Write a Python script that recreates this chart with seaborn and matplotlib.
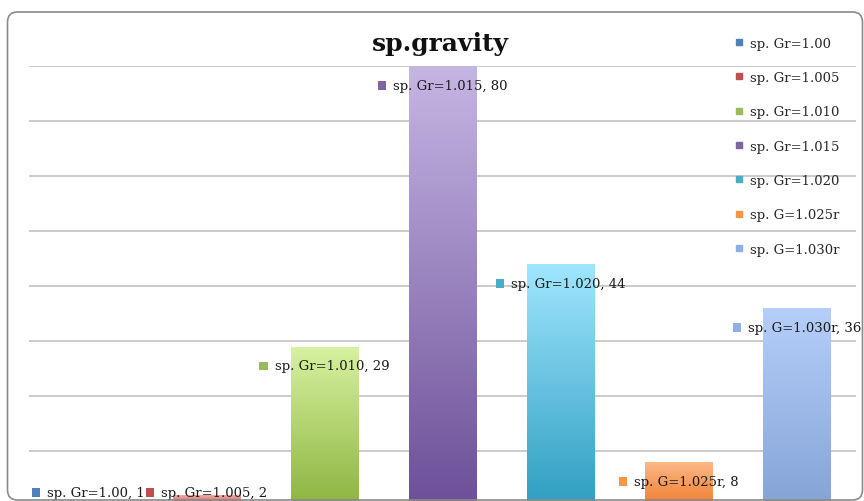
import numpy as np
import pandas as pd
import seaborn as sns
import matplotlib.pyplot as plt
from matplotlib.colors import LinearSegmentedColormap
from matplotlib.patches import FancyBboxPatch, Rectangle
from matplotlib.lines import Line2D
from matplotlib.offsetbox import AnnotationBbox, HPacker, DrawingArea, TextArea

# data
categories = ["sp. Gr=1.00", "sp. Gr=1.005", "sp. Gr=1.010", "sp. Gr=1.015",
              "sp. Gr=1.020", "sp. G=1.025r", "sp. G=1.030r"]
values = [1, 2, 29, 80, 44, 8, 36]
# gradient colours: (top, bottom)
top_colors = ["#aac6f0", "#f4a8a6", "#d8f2a2", "#c6b6e3", "#a0e6ff", "#fdb888", "#b6cefa"]
bottom_colors = ["#5a86c4", "#c4504c", "#8db43e", "#6c4f98", "#2e9ec0", "#f07c2c", "#84a4d6"]
marker_colors = ["#4f81bd", "#c0504d", "#9bbb59", "#8064a2", "#4bacc6", "#f79646", "#8fb0e6"]

df = pd.DataFrame({"cat": categories, "val": values})

sns.set_theme(style="white")
plt.rcParams["font.family"] = ["DejaVu Serif"]
FS = 9.5

fig = plt.figure(figsize=(8.64, 5.02), dpi=100)
ax = fig.add_axes([29 / 864, 1 - 507 / 502, (856 - 29) / 864, 440 / 502])

sns.barplot(data=df, x="cat", y="val", hue="cat", palette=marker_colors,
            legend=False, width=0.57, ax=ax)

# gradient fill on each bar
bars = sorted(ax.patches, key=lambda p: p.get_x())
for i, p in enumerate(bars):
    x0, y0, w, h = p.get_x(), p.get_y(), p.get_width(), p.get_height()
    cmap = LinearSegmentedColormap.from_list("g", [bottom_colors[i], top_colors[i]])
    grad = np.linspace(0, 1, 256).reshape(-1, 1)
    im = ax.imshow(grad, cmap=cmap, origin="lower", aspect="auto",
                   extent=[x0, x0 + w, y0, y0 + h], zorder=2)
    im.set_clip_path(p)
    p.set_edgecolor("none")

ax.set_xlim(-0.5, len(categories) - 0.5)
ax.set_ylim(0, 80)
ax.set_yticks(range(0, 81, 10))
ax.yaxis.grid(True, color="#bdbdbd", lw=1.1)
ax.set_axisbelow(True)
ax.set_xticks([])
ax.set_yticklabels([])
ax.set_xlabel("")
ax.set_ylabel("")
sns.despine(ax=ax, left=True, bottom=True)
ax.patch.set_alpha(0)

# data labels with small colored square
for i, (cat, v) in enumerate(zip(categories, values)):
    da = DrawingArea(6, 6, 0, 0)
    da.add_artist(Rectangle((0, 0), 6, 6, facecolor=marker_colors[i], edgecolor="none"))
    ta = TextArea(f"{cat}, {v}", textprops=dict(fontsize=FS, color="#1a1a1a"))
    box = HPacker(children=[da, ta], align="center", pad=0, sep=5)
    ab = AnnotationBbox(box, (i, max(v, 6)), xybox=(0, -14), boxcoords="offset points",
                        frameon=False, box_alignment=(0.5, 0.5), zorder=5)
    ax.add_artist(ab)

# legend
handles = [Line2D([], [], marker="s", ls="none", markersize=5, color=c) for c in marker_colors]
fig.legend(handles, categories, loc="upper left", bbox_to_anchor=(727 / 864, 1 - 31 / 502),
           frameon=False, fontsize=FS, handlelength=0.8, handletextpad=0.45,
           labelspacing=1.62, borderpad=0)

fig.text(440 / 864, 1 - 44 / 502, "sp.gravity", ha="center", va="center",
         fontsize=18, fontweight="bold", color="#111111")

# outer chart frame (inches)
frame = FancyBboxPatch((0.075, 0.01), 8.55, 4.88,
                       boxstyle="round,pad=0,rounding_size=0.1",
                       transform=fig.dpi_scale_trans, facecolor="none",
                       edgecolor="#8a8a8a", lw=1.2, zorder=10)
fig.patches.append(frame)

fig.savefig("out.png", dpi=100)
